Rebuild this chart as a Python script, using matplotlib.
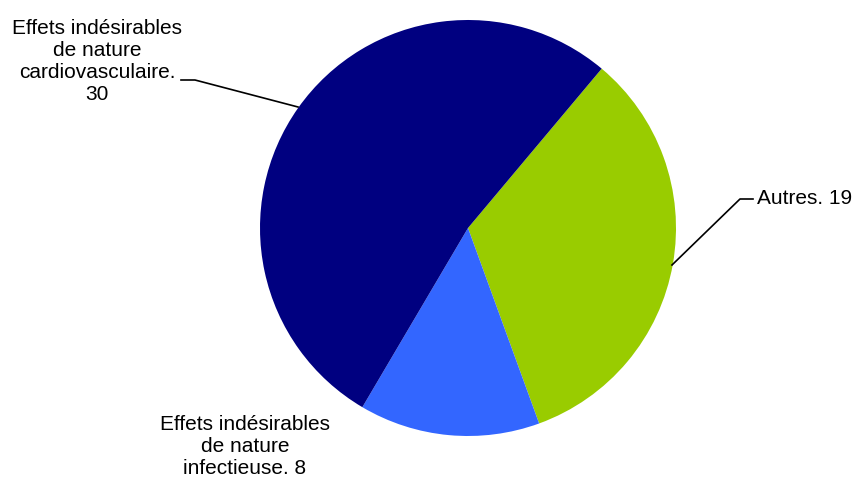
import matplotlib.pyplot as plt

plt.rcParams['font.family'] = ['Liberation Sans', 'DejaVu Sans']

# Data
labels = ['Autres', 'Effets indésirables\nde nature\ninfectieuse', 'Effets indésirables\nde nature\ncardiovasculaire']
values = [19, 8, 30]
colors = ['#99CC00', '#3366FF', '#000080']

W, H = 855, 482
cx, cy, r = 468, 228, 208


def to_data(px, py):
    """
    Converts pixel coordinates of the picture to data coordinates of the pie
    """
    return (px - cx) / r, (cy - py) / r


fig = plt.figure(figsize=(W / 100, H / 100), dpi=100)
ax = fig.add_axes([(cx - r) / W, (H - cy - r) / H, 2 * r / W, 2 * r / H])
ax.pie(values, colors=colors, startangle=50, counterclock=False, radius=1)
ax.set_xlim(-1, 1)
ax.set_ylim(-1, 1)
ax.set_aspect('equal')
ax.axis('off')

fs = 15

# Cardiovasculaire label and leader line
x, y = to_data(97, 61)
ax.text(x, y, labels[2] + '.\n' + str(values[2]), ha='center', va='center',
        fontsize=fs, linespacing=1.2, color='black')
pts = [to_data(181, 80), to_data(195, 80), to_data(298, 107)]
ax.plot([p[0] for p in pts], [p[1] for p in pts], color='black', lw=1.2, clip_on=False)

# Autres label and leader line
x, y = to_data(757, 198)
ax.text(x, y, labels[0] + '. ' + str(values[0]), ha='left', va='center',
        fontsize=fs, color='black')
pts = [to_data(672, 265), to_data(740, 199), to_data(753, 199)]
ax.plot([p[0] for p in pts], [p[1] for p in pts], color='black', lw=1.2, clip_on=False)

# Infectieuse label
x, y = to_data(245, 446)
ax.text(x, y, labels[1] + '. ' + str(values[1]), ha='center', va='center',
        fontsize=fs, linespacing=1.2, color='black')

fig.savefig('out.png', dpi=100)
